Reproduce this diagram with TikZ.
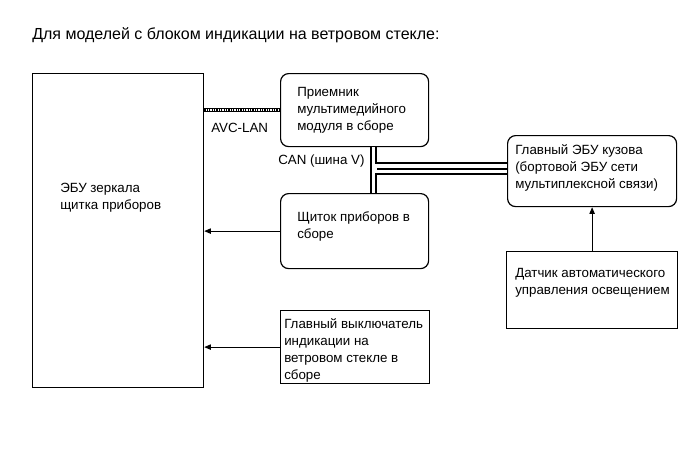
\documentclass[tikz,border=0pt]{standalone}
\usepackage{fontspec}
\setmainfont{Liberation Sans}
\usetikzlibrary{arrows.meta,positioning,calc}
\usepackage{xcolor}
\definecolor{Ink}{HTML}{000000}

\tikzset{
  box/.style={draw=Ink,line width=0.9pt,anchor=north west,inner sep=0pt},
  rbox/.style={box,rounded corners=6pt},
  lbl/.style={anchor=north west,inner sep=0pt,align=left,font=\fontsize{10}{12.75}\selectfont},
  sig/.style={draw=Ink,line width=0.75pt,-{Triangle[length=5pt,width=4pt]}},
}

\begin{document}
\begin{tikzpicture}[x=0.75pt,y=-0.75pt]
\useasboundingbox (0,0) rectangle (690,464);
\node[anchor=base west,inner sep=0pt,font=\fontsize{12}{14}\selectfont] (title) at (32,40) {Для моделей с блоком индикации на ветровом стекле:};

% blocks
\node[box,minimum width=171*0.75pt,minimum height=314*0.75pt] (ecu) at (32,73) {};
\node[rbox,minimum width=148*0.75pt,minimum height=73*0.75pt] (rcv) at (280,73) {};
\node[rbox,minimum width=148*0.75pt,minimum height=75*0.75pt] (dash) at (280,193) {};
\node[box,minimum width=149*0.75pt,minimum height=73*0.75pt] (sw) at (280,310) {};
\node[rbox,minimum width=169*0.75pt,minimum height=71*0.75pt] (body) at (507,135) {};
\node[box,minimum width=171*0.75pt,minimum height=77*0.75pt] (sens) at (506,251) {};

% texts
\node[lbl] (ecutxt) at (60,182.5) {ЭБУ зеркала\\щитка приборов};
\node[lbl] (rcvtxt) at (297,87.5) {Приемник\\мультимедийного\\модуля в сборе};
\node[lbl] (dashtxt) at (297,211.5) {Щиток приборов в\\сборе};
\node[lbl] (swtxt) at (284,318.5) {Главный выключатель\\индикации на\\ветровом стекле в\\сборе};
\node[lbl] (bodytxt) at (515,144.5) {Главный ЭБУ кузова\\(бортовой ЭБУ сети\\мультиплексной связи)};
\node[lbl] (senstxt) at (515,268.5) {Датчик автоматического\\управления освещением};
\node[lbl] (avc) at (211,122.5) {AVC-LAN};
\node[lbl] (can) at (278,154.5) {CAN (шина V)};

% AVC-LAN line
\draw[Ink,line width=3pt] (rcv.west) -- (rcv.west -| ecu.east);
\draw[white,line width=1.4pt] (rcv.west) -- (rcv.west -| ecu.east);
\draw[Ink,line width=1.4pt,dash pattern=on 0.9pt off 0.9pt] (rcv.west) -- (rcv.west -| ecu.east);

% CAN bus
\coordinate (canl) at (370,168.5);
\coordinate (canx) at (373.5,168.5);
\coordinate (canr) at (377,168.5);
\draw[Ink,line width=9.75pt] (canl) -- (body.west |- canl);
\draw[Ink,line width=5.25pt] (rcv.south -| canx) -- (dash.north -| canx);
\draw[white,line width=2.25pt] (rcv.south -| canx) -- (dash.north -| canx);
\draw[white,line width=6.75pt] (canx) -- (body.west |- canx);
\draw[Ink,line width=1.5pt] (canr) -- (body.west |- canr);

% signals
\draw[sig] (dash.west) -- (dash.west -| ecu.east);
\draw[sig] (sw.west) -- (sw.west -| ecu.east);
\draw[sig] (sens.north) -- (body.south);
\end{tikzpicture}
\end{document}
